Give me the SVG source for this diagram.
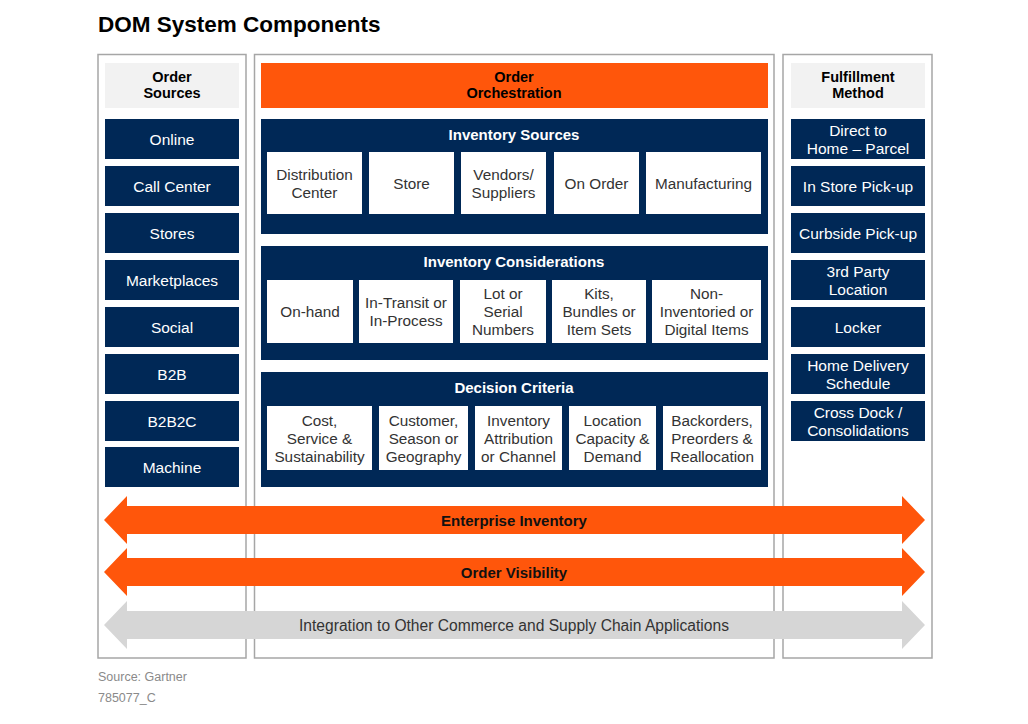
<svg xmlns="http://www.w3.org/2000/svg" width="1028" height="724" viewBox="0 0 1028 724">
<style>
text{font-family:"Liberation Sans",Arial,sans-serif;text-anchor:middle;dominant-baseline:central}
.panel{fill:#fff;stroke:#a6a6a6;stroke-width:1.5}
.hdr{fill:#f2f2f2}
.hdrt{font-size:14.5px;font-weight:bold;fill:#000}
.nav{fill:#002856}
.navt{font-size:15.5px;fill:#fff}
.sec{fill:#002856}
.sect{font-size:15px;font-weight:bold;fill:#fff}
.wb{fill:#fff}
.wbt{font-size:15.3px;fill:#333}
.org{fill:#ff560b}
.gry{fill:#d6d6d6}
.bt{font-size:15px;font-weight:bold;fill:#111}
.gt{font-size:15.6px;fill:#333}
.foot{font-size:12.5px;fill:#8a8a8a;text-anchor:start;dominant-baseline:auto}
</style>
<rect width="1028" height="724" fill="#fff"/>
<text x="98" y="32" style="font-size:22.5px;font-weight:bold;fill:#000;text-anchor:start;dominant-baseline:auto">DOM System Components</text>

<g id="panel-order-sources">
<rect class="panel" x="98" y="54.5" width="148" height="603.5"/>
<rect class="hdr" x="105" y="63" width="134" height="45"/>
<text class="hdrt" x="172" y="77">Order</text>
<text class="hdrt" x="172" y="93">Sources</text>
</g>
<g id="panel-orchestration">
<rect class="panel" x="254.5" y="54.5" width="519.5" height="603.5"/>
<rect class="org" x="261" y="63" width="507" height="45"/>
<text class="hdrt" x="514" y="77">Order</text>
<text class="hdrt" x="514" y="93">Orchestration</text>
</g>
<g id="panel-fulfillment">
<rect class="panel" x="783" y="54.5" width="149" height="603.5"/>
<rect class="hdr" x="791" y="63" width="134" height="45"/>
<text class="hdrt" x="858" y="77">Fulfillment</text>
<text class="hdrt" x="858" y="93">Method</text>
</g>

<g id="src-online"><rect class="nav" x="105" y="119" width="134" height="40"/><text class="navt" x="172" y="139">Online</text></g>
<g id="src-callcenter"><rect class="nav" x="105" y="166" width="134" height="40"/><text class="navt" x="172" y="186">Call Center</text></g>
<g id="src-stores"><rect class="nav" x="105" y="213" width="134" height="40"/><text class="navt" x="172" y="233">Stores</text></g>
<g id="src-marketplaces"><rect class="nav" x="105" y="260" width="134" height="40"/><text class="navt" x="172" y="280">Marketplaces</text></g>
<g id="src-social"><rect class="nav" x="105" y="307" width="134" height="40"/><text class="navt" x="172" y="327">Social</text></g>
<g id="src-b2b"><rect class="nav" x="105" y="354" width="134" height="40"/><text class="navt" x="172" y="374">B2B</text></g>
<g id="src-b2b2c"><rect class="nav" x="105" y="401" width="134" height="40"/><text class="navt" x="172" y="421">B2B2C</text></g>
<g id="src-machine"><rect class="nav" x="105" y="447" width="134" height="40"/><text class="navt" x="172" y="467">Machine</text></g>

<g id="ful-direct"><rect class="nav" x="791" y="119" width="134" height="40"/><text class="navt" x="858" y="130">Direct to</text><text class="navt" x="858" y="148">Home – Parcel</text></g>
<g id="ful-instore"><rect class="nav" x="791" y="166" width="134" height="40"/><text class="navt" x="858" y="186">In Store Pick-up</text></g>
<g id="ful-curbside"><rect class="nav" x="791" y="213" width="134" height="40"/><text class="navt" x="858" y="233">Curbside Pick-up</text></g>
<g id="ful-3rdparty"><rect class="nav" x="791" y="260" width="134" height="40"/><text class="navt" x="858" y="271">3rd Party</text><text class="navt" x="858" y="289">Location</text></g>
<g id="ful-locker"><rect class="nav" x="791" y="307" width="134" height="40"/><text class="navt" x="858" y="327">Locker</text></g>
<g id="ful-homedelivery"><rect class="nav" x="791" y="354" width="134" height="40"/><text class="navt" x="858" y="365">Home Delivery</text><text class="navt" x="858" y="383">Schedule</text></g>
<g id="ful-crossdock"><rect class="nav" x="791" y="401" width="134" height="40"/><text class="navt" x="858" y="412">Cross Dock /</text><text class="navt" x="858" y="430">Consolidations</text></g>

<g id="inventory-sources">
<rect class="sec" x="261" y="119" width="507" height="115"/>
<text class="sect" x="514" y="134">Inventory Sources</text>
<rect class="wb" x="267" y="152" width="95" height="62"/><text class="wbt" x="314.5" y="174">Distribution</text><text class="wbt" x="314.5" y="192">Center</text>
<rect class="wb" x="369" y="152" width="85" height="62"/><text class="wbt" x="411.5" y="183">Store</text>
<rect class="wb" x="461" y="152" width="85" height="62"/><text class="wbt" x="503.5" y="174">Vendors/</text><text class="wbt" x="503.5" y="192">Suppliers</text>
<rect class="wb" x="554" y="152" width="85" height="62"/><text class="wbt" x="596.5" y="183">On Order</text>
<rect class="wb" x="646" y="152" width="115" height="62"/><text class="wbt" x="703.5" y="183">Manufacturing</text>
</g>

<g id="inventory-considerations">
<rect class="sec" x="261" y="246" width="507" height="114"/>
<text class="sect" x="514" y="261">Inventory Considerations</text>
<rect class="wb" x="267" y="280" width="86" height="63"/><text class="wbt" x="310" y="311">On-hand</text>
<rect class="wb" x="359" y="280" width="94" height="63"/><text class="wbt" x="406" y="302">In-Transit or</text><text class="wbt" x="406" y="320">In-Process</text>
<rect class="wb" x="460" y="280" width="86" height="63"/><text class="wbt" x="503" y="293">Lot or</text><text class="wbt" x="503" y="311">Serial</text><text class="wbt" x="503" y="329">Numbers</text>
<rect class="wb" x="552" y="280" width="94" height="63"/><text class="wbt" x="599" y="293">Kits,</text><text class="wbt" x="599" y="311">Bundles or</text><text class="wbt" x="599" y="329">Item Sets</text>
<rect class="wb" x="652" y="280" width="109" height="63"/><text class="wbt" x="706.5" y="293">Non-</text><text class="wbt" x="706.5" y="311">Inventoried or</text><text class="wbt" x="706.5" y="329">Digital Items</text>
</g>

<g id="decision-criteria">
<rect class="sec" x="261" y="372" width="507" height="115"/>
<text class="sect" x="514" y="387">Decision Criteria</text>
<rect class="wb" x="267" y="406" width="105" height="64"/><text class="wbt" x="319.5" y="420">Cost,</text><text class="wbt" x="319.5" y="438">Service &amp;</text><text class="wbt" x="319.5" y="456">Sustainability</text>
<rect class="wb" x="379" y="406" width="89" height="64"/><text class="wbt" x="423.5" y="420">Customer,</text><text class="wbt" x="423.5" y="438">Season or</text><text class="wbt" x="423.5" y="456">Geography</text>
<rect class="wb" x="475" y="406" width="87" height="64"/><text class="wbt" x="518.5" y="420">Inventory</text><text class="wbt" x="518.5" y="438">Attribution</text><text class="wbt" x="518.5" y="456">or Channel</text>
<rect class="wb" x="569" y="406" width="87" height="64"/><text class="wbt" x="612.5" y="420">Location</text><text class="wbt" x="612.5" y="438">Capacity &amp;</text><text class="wbt" x="612.5" y="456">Demand</text>
<rect class="wb" x="663" y="406" width="98" height="64"/><text class="wbt" x="712" y="420">Backorders,</text><text class="wbt" x="712" y="438">Preorders &amp;</text><text class="wbt" x="712" y="456">Reallocation</text>
</g>

<g id="connectors">
<g id="band-enterprise-inventory">
<polygon class="org" points="104,520 127,496 127,506 902,506 902,496 925,520 902,544 902,534 127,534 127,544"/>
<text class="bt" x="514" y="520">Enterprise Inventory</text>
</g>
<g id="band-order-visibility">
<polygon class="org" points="104,572 127,548 127,558 902,558 902,548 925,572 902,596 902,586 127,586 127,596"/>
<text class="bt" x="514" y="572">Order Visibility</text>
</g>
<g id="band-integration">
<polygon class="gry" points="104,625 127,601 127,611 902,611 902,601 925,625 902,649 902,639 127,639 127,649"/>
<text class="gt" x="514" y="625">Integration to Other Commerce and Supply Chain Applications</text>
</g>
</g>

<text class="foot" x="98" y="681">Source: Gartner</text>
<text class="foot" x="98" y="702">785077_C</text>
</svg>
